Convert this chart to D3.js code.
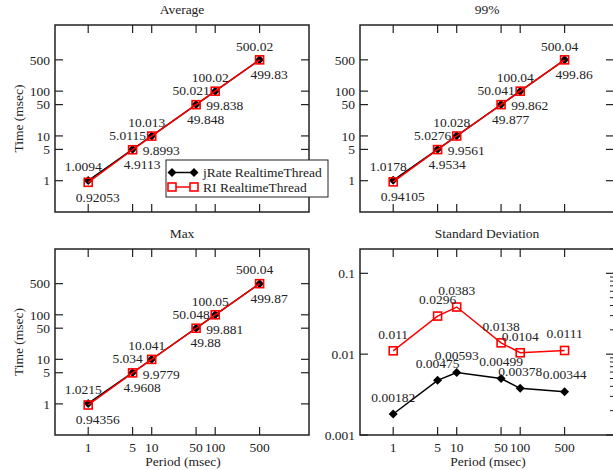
<!DOCTYPE html>
<html>
<head>
<meta charset="utf-8">
<script src="https://d3js.org/d3.v7.min.js"></script>
<style>
  body { margin: 0; background: #fff; }
  svg text { font-family: "Liberation Serif", "Times New Roman", serif; font-size: 13.5px; fill: #222; }
</style>
</head>
<body>
<svg id="chart" width="613" height="470"></svg>
<script>
// data
const periods = [1, 5, 10, 50, 100, 500];
const avgJrate = [1.0094, 5.0115, 10.013, 50.021, 100.02, 500.02];
const avgRI = [0.92053, 4.9113, 9.8993, 49.848, 99.838, 499.83];
const p99Jrate = [1.0178, 5.0276, 10.028, 50.041, 100.04, 500.04];
const p99RI = [0.94105, 4.9534, 9.9561, 49.877, 99.862, 499.86];
const maxJrate = [1.0215, 5.034, 10.041, 50.048, 100.05, 500.04];
const maxRI = [0.94356, 4.9608, 9.9779, 49.88, 99.881, 499.87];
const sdJrate = [0.00182, 0.00475, 0.00593, 0.00499, 0.00378, 0.00344];
const sdRI = [0.011, 0.0296, 0.0383, 0.0138, 0.0104, 0.0111];
const timeTicks = [1, 5, 10, 50, 100, 500];
const sdTicks = [0.001, 0.01, 0.1];
const seriesNames = ["jRate RealtimeThread", "RI RealtimeThread"];

const svg = d3.select("#chart");
const ink = "#222";

const panels = [
  { title: "Average", jr: avgJrate, ri: avgRI, x0: 55, x1: 309, y0: 25, y1: 212, ylab: true, xlab: false, sd: false, legend: true },
  { title: "99%", jr: p99Jrate, ri: p99RI, x0: 360, x1: 614, y0: 25, y1: 212, ylab: false, xlab: false, sd: false },
  { title: "Max", jr: maxJrate, ri: maxRI, x0: 55, x1: 309, y0: 249, y1: 435, ylab: true, xlab: true, sd: false },
  { title: "Standard Deviation", jr: sdJrate, ri: sdRI, x0: 360, x1: 614, y0: 249, y1: 435, ylab: false, xlab: true, sd: true }
];

function diamond(r) {
  return `M0,${-r}L${r},0L0,${r}L${-r},0Z`;
}

panels.forEach(p => {
  const g = svg.append("g");
  const x = d3.scaleLog().domain([0.3, 3000]).range([p.x0, p.x1]);
  const y = p.sd
    ? d3.scaleLog().domain([0.001, 0.2]).range([p.y1, p.y0])
    : d3.scaleLog().domain([0.2, 3000]).range([p.y1, p.y0]);
  const yt = p.sd ? sdTicks : timeTicks;

  // ticks (all pointing inward / left)
  const tk = 8;
  periods.forEach(v => {
    g.append("line").attr("x1", x(v)).attr("x2", x(v)).attr("y1", p.y1).attr("y2", p.y1 - tk).attr("stroke", ink).attr("stroke-width", 1.2);
    g.append("line").attr("x1", x(v)).attr("x2", x(v)).attr("y1", p.y0).attr("y2", p.y0 + tk).attr("stroke", ink).attr("stroke-width", 1.2);
  });
  yt.forEach(v => {
    g.append("line").attr("x1", p.x0).attr("x2", p.x0 + tk).attr("y1", y(v)).attr("y2", y(v)).attr("stroke", ink).attr("stroke-width", 1.2);
    g.append("line").attr("x1", p.x1).attr("x2", p.x1 - tk).attr("y1", y(v)).attr("y2", y(v)).attr("stroke", ink).attr("stroke-width", 1.2);
    g.append("text").attr("x", p.x0 - 5).attr("y", y(v)).attr("dy", "0.35em")
      .attr("text-anchor", "end").text(v);
  });
  if (p.sd) {
    // minor ticks on the right side only
    const minors = [];
    [0.001, 0.01, 0.1].forEach(d => { for (let k = 2; k <= 9; k++) if (d * k <= 0.2) minors.push(d * k); });
    minors.forEach(v => {
      g.append("line").attr("x1", p.x1).attr("x2", p.x1 - 4).attr("y1", y(v)).attr("y2", y(v)).attr("stroke", ink).attr("stroke-width", 1);
    });
  }

  // frame
  g.append("rect").attr("x", p.x0).attr("y", p.y0).attr("width", p.x1 - p.x0).attr("height", p.y1 - p.y0)
    .attr("fill", "none").attr("stroke", ink).attr("stroke-width", 1.5);

  // titles and labels
  g.append("text").attr("x", (p.x0 + p.x1) / 2).attr("y", p.y0 - 16).attr("dy", "0.35em")
    .attr("text-anchor", "middle").text(p.title);
  if (p.ylab) {
    g.append("text").attr("transform", `translate(18,${(p.y0 + p.y1) / 2}) rotate(-90)`)
      .attr("dy", "0.35em").attr("text-anchor", "middle").text("Time (msec)");
  }
  if (p.xlab) {
    periods.forEach(v => {
      g.append("text").attr("x", x(v)).attr("y", p.y1 + 12).attr("dy", "0.35em")
        .attr("text-anchor", "middle").text(v);
    });
    g.append("text").attr("x", (p.x0 + p.x1) / 2 + 1).attr("y", p.y1 + 26).attr("dy", "0.35em")
      .attr("text-anchor", "middle").text("Period (msec)");
  }

  const line = d3.line().x((d, i) => x(periods[i])).y(d => y(d));

  // jRate
  g.append("path").attr("d", line(p.jr)).attr("fill", "none").attr("stroke", "#000").attr("stroke-width", 1.5);
  g.selectAll(null).data(p.jr).join("path")
    .attr("d", diamond(4.5))
    .attr("transform", (d, i) => `translate(${x(periods[i])},${y(d)})`)
    .attr("fill", "#000");

  // RI
  g.append("path").attr("d", line(p.ri)).attr("fill", "none").attr("stroke", "#f00").attr("stroke-width", 1.5);
  g.selectAll(null).data(p.ri).join("rect")
    .attr("x", (d, i) => x(periods[i]) - 4).attr("y", d => y(d) - 4)
    .attr("width", 8).attr("height", 8)
    .attr("fill", "none").attr("stroke", "#f00").attr("stroke-width", 1.6);

  // value labels
  const jOff = p.sd ? [0, -17] : [-5, -14];
  const rOff = p.sd ? [0, -17] : [9.5, 14.5];
  g.selectAll(null).data(p.jr).join("text")
    .attr("x", (d, i) => x(periods[i]) + jOff[0]).attr("y", d => y(d) + jOff[1]).attr("dy", "0.35em")
    .attr("text-anchor", "middle").text(d => d);
  g.selectAll(null).data(p.ri).join("text")
    .attr("x", (d, i) => x(periods[i]) + rOff[0]).attr("y", d => y(d) + rOff[1]).attr("dy", "0.35em")
    .attr("text-anchor", "middle").text(d => d);

  if (p.legend) {
    const lg = svg.append("g");
    lg.append("rect").attr("x", 166).attr("y", 160).attr("width", 162).attr("height", 37)
      .attr("fill", "#fff").attr("stroke", ink).attr("stroke-width", 1);
    const ly = [172.5, 187];
    // jRate entry
    lg.append("line").attr("x1", 172).attr("x2", 194).attr("y1", ly[0]).attr("y2", ly[0]).attr("stroke", "#000").attr("stroke-width", 1.5);
    [172, 194].forEach(cx => lg.append("path").attr("d", diamond(4.5)).attr("transform", `translate(${cx},${ly[0]})`).attr("fill", "#000"));
    // RI entry
    lg.append("line").attr("x1", 172).attr("x2", 194).attr("y1", ly[1]).attr("y2", ly[1]).attr("stroke", "#f00").attr("stroke-width", 1.5);
    [172, 194].forEach(cx => lg.append("rect").attr("x", cx - 4).attr("y", ly[1] - 4).attr("width", 8).attr("height", 8)
      .attr("fill", "#fff").attr("stroke", "#f00").attr("stroke-width", 1.6));
    seriesNames.forEach((n, i) => {
      lg.append("text").attr("x", 203).attr("y", ly[i]).attr("dy", "0.35em").text(n);
    });
  }
});
</script>
</body>
</html>
